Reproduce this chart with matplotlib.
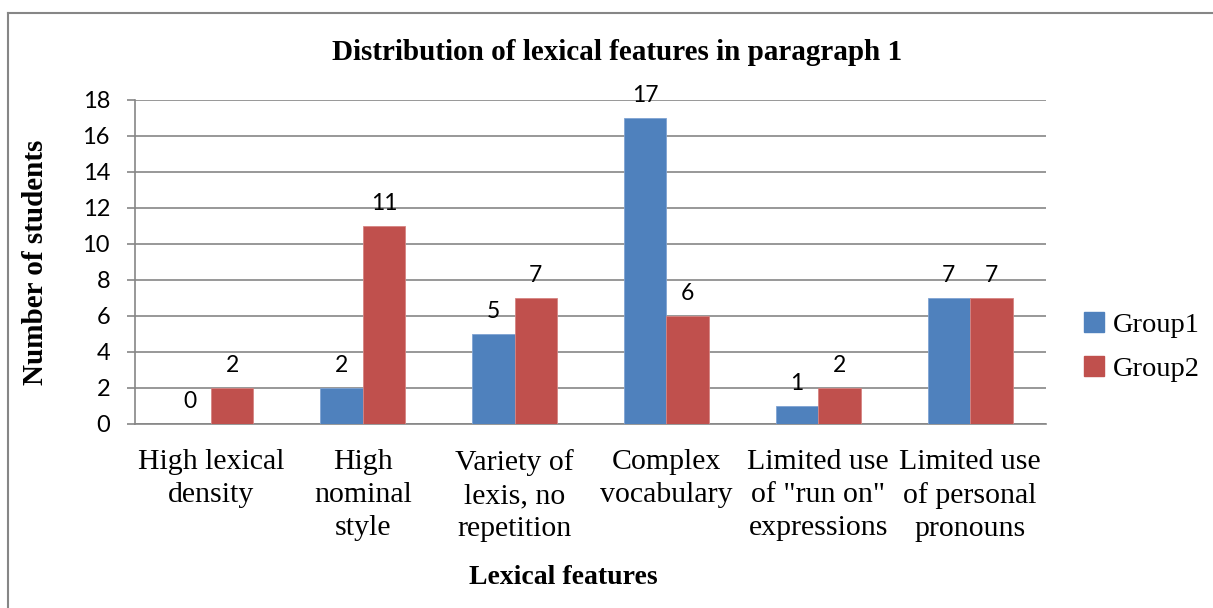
import matplotlib
matplotlib.use("Agg")
import matplotlib.pyplot as plt
from matplotlib.lines import Line2D
from matplotlib.patches import Patch
import numpy as np

categories = ["High lexical\ndensity", "High\nnominal\nstyle", "Variety of\nlexis, no\nrepetition",
              "Complex\nvocabulary", "Limited use\nof \"run on\"\nexpressions", "Limited use\nof personal\npronouns"]
group1 = [0, 2, 5, 17, 1, 7]
group2 = [2, 11, 7, 6, 2, 7]
series_names = ["Group1", "Group2"]
yticks = [0, 2, 4, 6, 8, 10, 12, 14, 16, 18]

W, H = 1213, 608
fig = plt.figure(figsize=(W / 100, H / 100), dpi=100)
serif = "Liberation Serif"
sans = "Lato"

def fx(px):
    return px / W

def fy(py):
    return 1 - py / H

ax = fig.add_axes([fx(135), fy(424), fx(1046) - fx(135), fy(100) - fy(424)])

blue = "#4F81BD"
red = "#C0504D"
grid_c = "#868686"

x = np.arange(len(categories))
bw = 0.28
b1 = ax.bar(x - bw / 2, group1, bw, color=blue, edgecolor="#7FA3D3", linewidth=0.6, zorder=3)
b2 = ax.bar(x + bw / 2, group2, bw, color=red, edgecolor="#D68482", linewidth=0.6, zorder=3)

for bars, vals in ((b1, group1), (b2, group2)):
    for rect, v in zip(bars, vals):
        ax.annotate(str(v), (rect.get_x() + rect.get_width() / 2, v), xytext=(0, 9),
                    textcoords="offset points", ha="center", va="bottom",
                    fontsize=16.5, family=sans, color="black", zorder=4)

ax.set_xlim(-0.5, len(categories) - 0.5)
ax.set_ylim(0, 18)
ax.set_yticks(yticks)
ax.set_yticklabels([str(t) for t in yticks], fontsize=17, family=sans)
ax.yaxis.grid(True, color=grid_c, linewidth=1.2, zorder=0)
ax.set_axisbelow(True)
ax.tick_params(axis="y", length=6, width=1.2, color=grid_c, direction="out", pad=12)
ax.tick_params(axis="x", length=0, pad=18)
ax.set_xticks(x)
ax.set_xticklabels(categories, fontsize=21.5, family=serif, linespacing=1.35)
for s in ("top", "right"):
    ax.spines[s].set_visible(False)
for s in ("left", "bottom"):
    ax.spines[s].set_color(grid_c)
    ax.spines[s].set_linewidth(1.2)

fig.text(fx(617), fy(52), "Distribution of lexical features in paragraph 1", ha="center", va="center",
         fontsize=21, fontweight="bold", family=serif)
fig.text(fx(563), fy(577), "Lexical features", ha="center", va="center",
         fontsize=20, fontweight="bold", family=serif)
fig.text(fx(36), fy(262), "Number of students", ha="center", va="center", rotation=90,
         fontsize=21, fontweight="bold", family=serif)

handles = [Patch(facecolor=blue, edgecolor=blue), Patch(facecolor=red, edgecolor=red)]
leg = fig.legend(handles, series_names, loc="center left", bbox_to_anchor=(fx(1084), fy(347)),
                 frameon=False, prop={"family": serif, "size": 20.5}, handlelength=0.7, handleheight=0.7,
                 handletextpad=0.3, labelspacing=0.65, borderaxespad=0, borderpad=0)

# chart border (left and top edges visible)
fig.add_artist(Line2D([fx(8), fx(8)], [fy(13), 0], color="#868686", linewidth=1.5))
fig.add_artist(Line2D([fx(8), 1], [fy(13), fy(13)], color="#868686", linewidth=1.5))

fig.savefig("out.png", dpi=100)
